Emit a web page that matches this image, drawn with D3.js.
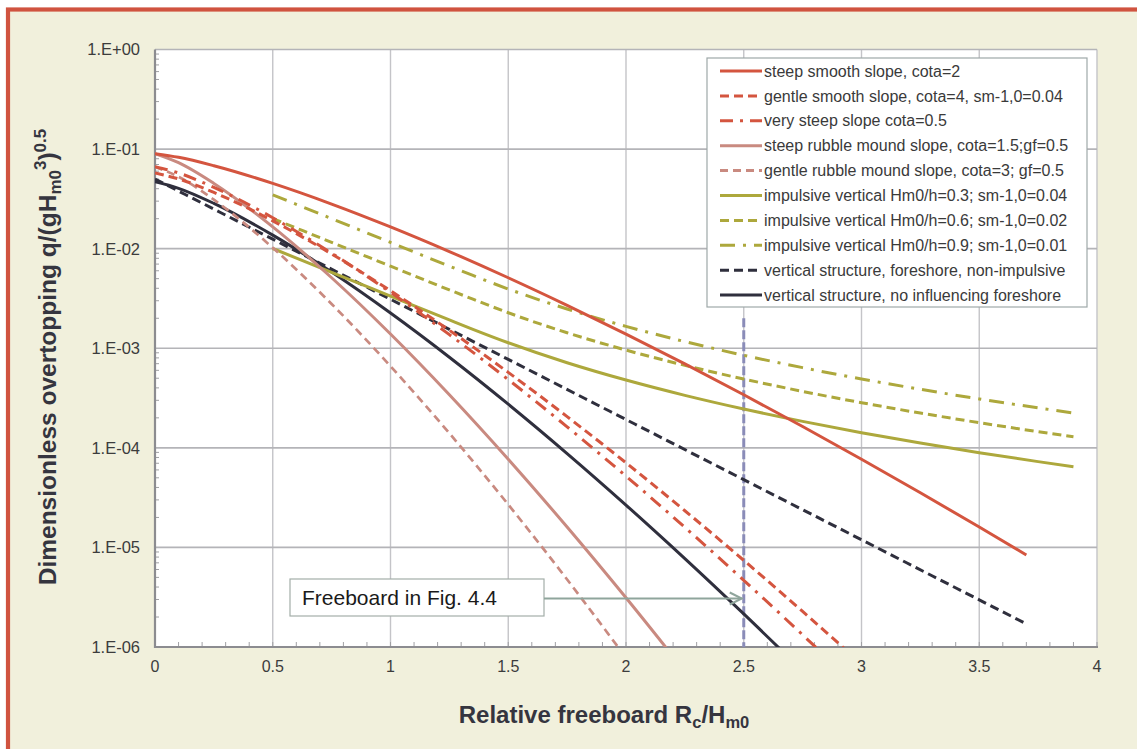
<!DOCTYPE html>
<html><head><meta charset="utf-8">
<script src="https://cdn.jsdelivr.net/npm/d3@7/dist/d3.min.js"></script>
<style>
html,body{margin:0;padding:0;background:#fff;}
svg{display:block;font-family:"Liberation Sans",Arial,sans-serif;}
</style></head>
<body>
<svg id="chart" width="1137" height="749"></svg>
<script>
// ---------------- data ----------------
const xTickLabels = ["0","0.5","1","1.5","2","2.5","3","3.5","4"];
const xTickValues = [0,0.5,1,1.5,2,2.5,3,3.5,4];
const yTickValues = [1,1e-1,1e-2,1e-3,1e-4,1e-5,1e-6];
const yTickLabels = ["1.E+00","1.E-01","1.E-02","1.E-03","1.E-04","1.E-05","1.E-06"];

const xSlope = [0,0.1,0.25,0.5,0.75,1,1.25,1.5,1.75,2,2.25,2.5,2.75,3,3.25,3.5,3.7];
const steepSmooth   = [0.0900,0.08268,0.06806,0.04523,0.02806,0.01654,0.009353,0.005104,0.002700,0.001389,6.966e-4,3.412e-4,1.636e-4,7.682e-5,3.540e-5,1.602e-5,8.389e-6];
const xGentle = [0,0.1,0.25,0.5,0.75,1,1.25,1.5,1.75,2,2.25,2.5,2.75,3];
const gentleSmooth  = [0.0575,0.05017,0.03671,0.01904,0.008842,0.003783,0.001514,5.722e-4,2.057e-4,7.072e-5,2.334e-5,7.416e-6,2.276e-6,6.759e-7];
const verySteep     = [0.0666,0.05757,0.04124,0.02046,0.009018,0.003642,0.001370,4.846e-4,1.625e-4,5.196e-5,1.590e-5,4.675e-6,1.324e-6,3.621e-7];
const xRubble = [0,0.1,0.25,0.5,0.75,1,1.25,1.5,1.75,2,2.25];
const steepRubble   = [0.0900,0.07302,0.04523,0.01654,0.005104,0.001389,3.412e-4,7.682e-5,1.602e-5,3.118e-6,5.703e-7];
const xGentleRubble = [0,0.1,0.25,0.5,0.75,1,1.25,1.5,1.75,2];
const gentleRubble  = [0.0664,0.05270,0.03104,0.01021,0.002784,6.608e-4,1.400e-4,2.695e-5,4.764e-6,7.806e-7];
const xImp = [0.5,0.75,1,1.25,1.35,1.5,1.75,2,2.25,2.5,2.75,3,3.25,3.5,3.75,3.9];
const imp03 = [0.01003,0.005785,0.003338,0.001926,0.00155,0.001136,7.154e-4,4.793e-4,3.366e-4,2.454e-4,1.844e-4,1.420e-4,1.117e-4,8.943e-5,7.271e-5,6.464e-5];
const imp06 = [0.02006,0.01157,0.006676,0.003852,0.00311,0.002272,0.001431,9.585e-4,6.732e-4,4.908e-4,3.687e-4,2.840e-4,2.234e-4,1.789e-4,1.454e-4,1.293e-4];
const imp09 = [0.03474,0.02004,0.01156,0.006671,0.00538,0.003935,0.002478,0.001660,0.001166,8.500e-4,6.386e-4,4.919e-4,3.869e-4,3.098e-4,2.519e-4,2.239e-4];
const xVert = [0,0.5,1,1.5,2,2.5,3,3.5,3.7];
const vertForeshore = [0.05,0.01245,0.003102,7.726e-4,1.924e-4,4.793e-5,1.194e-5,2.974e-6,1.705e-6];
const xVert2 = [0,0.1,0.25,0.5,0.75,1,1.25,1.5,1.75,2,2.25,2.5,2.75];
const vertNoForeshore = [0.047,0.04037,0.02848,0.01369,0.005819,0.002256,8.119e-4,2.742e-4,8.758e-5,2.661e-5,7.720e-6,2.148e-6,5.750e-7];

const seriesNames = [
  "steep smooth slope, cota=2",
  "gentle smooth slope, cota=4, sm-1,0=0.04",
  "very steep slope cota=0.5",
  "steep rubble mound slope, cota=1.5;gf=0.5",
  "gentle rubble mound slope, cota=3; gf=0.5",
  "impulsive vertical Hm0/h=0.3; sm-1,0=0.04",
  "impulsive vertical Hm0/h=0.6; sm-1,0=0.02",
  "impulsive vertical Hm0/h=0.9; sm-1,0=0.01",
  "vertical structure, foreshore, non-impulsive",
  "vertical structure, no influencing foreshore"
];
const freeboardX = 2.5;
const freeboardTop = 2.0e-3;
const annotationText = "Freeboard in Fig. 4.4";

// ---------------- styles ----------------
const RED="#D4553F", PINK="#C98A80", OLIVE="#ADA83C", DARK="#2F2F3D";
const seriesData = [
  {x:xSlope, y:steepSmooth, c:RED, w:3, d:null},
  {x:xGentle, y:gentleSmooth, c:RED, w:3, d:"9,5"},
  {x:xGentle, y:verySteep, c:RED, w:3, d:"13,7,3,7"},
  {x:xRubble, y:steepRubble, c:PINK, w:3, d:null},
  {x:xGentleRubble, y:gentleRubble, c:PINK, w:2.7, d:"8,5"},
  {x:xImp, y:imp03, c:OLIVE, w:3, d:null},
  {x:xImp, y:imp06, c:OLIVE, w:3, d:"9,5"},
  {x:xImp, y:imp09, c:OLIVE, w:3, d:"15,8,3,8"},
  {x:xVert, y:vertForeshore, c:DARK, w:3, d:"9,5"},
  {x:xVert2, y:vertNoForeshore, c:DARK, w:3, d:null}
];

const svg = d3.select("#chart");
// frame
svg.append("rect").attr("x",8).attr("y",9.5).attr("width",1200).attr("height",800)
  .attr("fill","#F1F0DC").attr("stroke","#D0533F").attr("stroke-width",4.2);

const m = {l:155, r:1097, t:49.5, b:647};
const x = d3.scaleLinear().domain([0,4]).range([m.l,m.r]);
const y = d3.scaleLog().domain([1e-6,1]).range([m.b,m.t]);

svg.append("rect").attr("x",m.l).attr("y",m.t).attr("width",m.r-m.l).attr("height",m.b-m.t).attr("fill","#fff");

// grid
const grid = svg.append("g");
xTickValues.filter(v=>v>0).forEach(v=>{
  grid.append("line").attr("x1",x(v)).attr("x2",x(v)).attr("y1",m.t).attr("y2",m.b)
    .attr("stroke","#c4c4c8").attr("stroke-width",1.4);
});
yTickValues.filter(v=>v>1e-6).forEach(v=>{
  grid.append("line").attr("x1",m.l).attr("x2",m.r).attr("y1",y(v)).attr("y2",y(v))
    .attr("stroke","#b4b4b8").attr("stroke-width",1.6);
});

// axes
const axG = svg.append("g");
for(let e=-6;e<0;e++){
  for(let k=2;k<=9;k++){
    const v=k*Math.pow(10,e);
    axG.append("line").attr("x1",m.l).attr("x2",m.l+4).attr("y1",y(v)).attr("y2",y(v))
      .attr("stroke","#a0a0a4").attr("stroke-width",1);
  }
}
for(let i=1;i<=40;i++){
  const v=i/10;
  axG.append("line").attr("x1",x(v)).attr("x2",x(v)).attr("y1",m.b).attr("y2",m.b-5)
    .attr("stroke","#a0a0a4").attr("stroke-width",1);
}
axG.append("line").attr("x1",m.l).attr("x2",m.l).attr("y1",m.t).attr("y2",m.b+1)
  .attr("stroke","#8c8c90").attr("stroke-width",2.2);
axG.append("line").attr("x1",m.l-1).attr("x2",m.r+1).attr("y1",m.b).attr("y2",m.b)
  .attr("stroke","#8c8c90").attr("stroke-width",2.2);

// tick labels
yTickValues.forEach((v,i)=>{
  svg.append("text").attr("x",140).attr("y",y(v)).attr("dy","0.36em").attr("text-anchor","end")
    .attr("font-size",16.5).attr("fill","#3c3c3c").text(yTickLabels[i]);
});
xTickValues.forEach((v,i)=>{
  svg.append("text").attr("x",x(v)).attr("y",672).attr("text-anchor","middle")
    .attr("font-size",16).attr("fill","#3c3c3c").text(xTickLabels[i]);
});

// clip
svg.append("clipPath").attr("id","clip").append("rect")
  .attr("x",m.l).attr("y",m.t).attr("width",m.r-m.l).attr("height",m.b-m.t);

// freeboard line
svg.append("line").attr("x1",x(freeboardX)).attr("x2",x(freeboardX))
  .attr("y1",y(freeboardTop)).attr("y2",m.b)
  .attr("stroke","#8A8CB8").attr("stroke-width",3).attr("stroke-dasharray","9,3");

// curves
const line = d3.line().x(d=>x(d[0])).y(d=>y(d[1])).curve(d3.curveMonotoneX);
const cg = svg.append("g").attr("clip-path","url(#clip)");
seriesData.slice().reverse().forEach(s=>{
  const pts = s.x.map((xv,i)=>[xv,s.y[i]]);
  const p = cg.append("path").attr("d",line(pts)).attr("fill","none")
    .attr("stroke",s.c).attr("stroke-width",s.w).attr("stroke-linejoin","round");
  if(s.d) p.attr("stroke-dasharray",s.d);
});

// annotation
const bx=290, by=579, bw=254, bh=37;
svg.append("rect").attr("x",bx).attr("y",by).attr("width",bw).attr("height",bh)
  .attr("fill","#fff").attr("stroke","#a3aea8").attr("stroke-width",1.2);
svg.append("text").attr("x",bx+12).attr("y",by+bh/2).attr("dy","0.36em")
  .attr("font-size",21).attr("fill","#1a1a1a").text(annotationText);
const ay = by+bh/2+1;
const tipX = x(freeboardX)-2;
svg.append("line").attr("x1",bx+bw).attr("x2",tipX).attr("y1",ay).attr("y2",ay)
  .attr("stroke","#8FA59C").attr("stroke-width",2);
svg.append("path").attr("d",`M${tipX-12},${ay-6} L${tipX},${ay} L${tipX-12},${ay+6}`)
  .attr("fill","none").attr("stroke","#8FA59C").attr("stroke-width",2);

// legend
const lg = svg.append("g");
lg.append("rect").attr("x",707).attr("y",58).attr("width",380).attr("height",249)
  .attr("fill","#fff").attr("stroke","#9ea8a8").attr("stroke-width",1.2);
seriesNames.forEach((name,i)=>{
  const s = seriesData[i];
  const yy = 71 + i*24.9;
  const l = lg.append("line").attr("x1",720).attr("x2",762).attr("y1",yy).attr("y2",yy)
    .attr("stroke",s.c).attr("stroke-width",3);
  if(s.d) l.attr("stroke-dasharray",s.d);
  lg.append("text").attr("x",764).attr("y",yy).attr("dy","0.35em").attr("font-size",16)
    .attr("fill","#3a3a3a").text(name);
});

// axis titles
const yt = svg.append("text").attr("transform","translate(56,357) rotate(-90)")
  .attr("text-anchor","middle").attr("font-size",24.5).attr("font-weight","bold").attr("fill","#35353f");
yt.append("tspan").text("Dimensionless overtopping q/(gH");
yt.append("tspan").attr("font-size",17).attr("dy",5).text("m0");
yt.append("tspan").attr("font-size",17).attr("dy",-15).text("3");
yt.append("tspan").attr("font-size",24.5).attr("dy",10).text(")");
yt.append("tspan").attr("font-size",17).attr("dy",-10).text("0.5");

const xt = svg.append("text").attr("x",604).attr("y",723)
  .attr("text-anchor","middle").attr("font-size",24).attr("font-weight","bold").attr("fill","#35353f");
xt.append("tspan").text("Relative freeboard R");
xt.append("tspan").attr("font-size",16.5).attr("dy",5).text("c");
xt.append("tspan").attr("font-size",24).attr("dy",-5).text("/H");
xt.append("tspan").attr("font-size",16.5).attr("dy",5).text("m0");
</script>
</body></html>
